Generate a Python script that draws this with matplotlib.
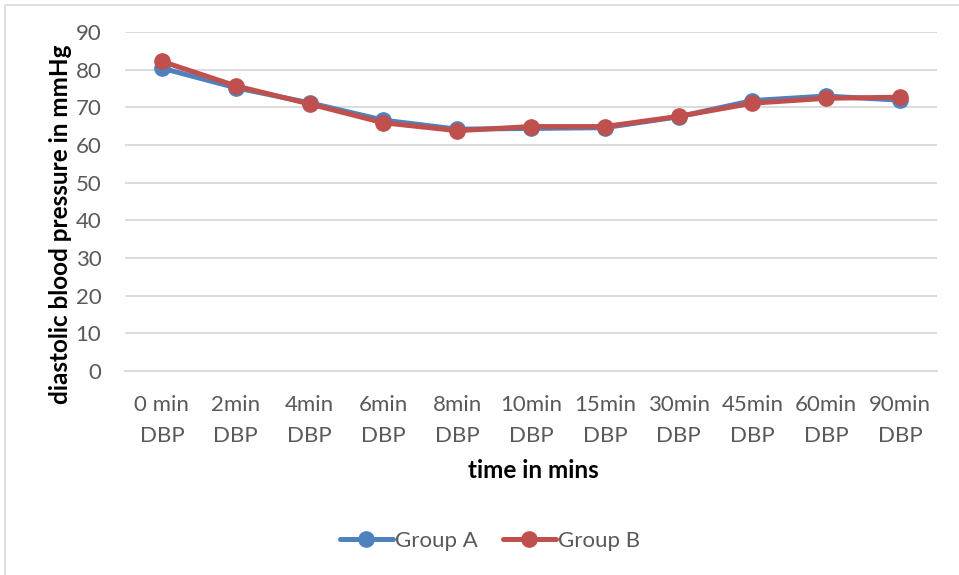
import matplotlib.pyplot as plt
from matplotlib.patches import Rectangle

# values
categories = ['0 min\nDBP', '2min\nDBP', '4min\nDBP', '6min\nDBP', '8min\nDBP',
              '10min\nDBP', '15min\nDBP', '30min\nDBP', '45min\nDBP', '60min\nDBP', '90min\nDBP']
group_a = [80.4, 75.2, 71.2, 66.6, 64.2, 64.4, 64.6, 67.5, 71.8, 73.0, 71.9]
group_b = [82.2, 75.7, 70.9, 65.9, 63.8, 64.9, 64.9, 67.6, 71.1, 72.4, 72.7]
y_ticks = [0, 10, 20, 30, 40, 50, 60, 70, 80, 90]

plt.rcParams['font.family'] = ['Lato', 'DejaVu Sans']

fig = plt.figure(figsize=(9.59, 5.75), dpi=100)
ax = fig.add_axes([125 / 959, 1 - 371 / 575, 812 / 959, 339 / 575])

# outer chart frame
fig.patches.append(Rectangle((5 / 959, -0.01), 1.0, 1 - 5 / 575 + 0.01, transform=fig.transFigure,
                             fill=False, edgecolor='#D9D9D9', linewidth=1.2))

x = range(len(categories))
ax.plot(x, group_a, color='#4F81BD', linewidth=3.6, marker='o', markersize=11,
        solid_capstyle='round', label='Group A', zorder=3)
ax.plot(x, group_b, color='#C0504D', linewidth=3.6, marker='o', markersize=11,
        solid_capstyle='round', label='Group B', zorder=4)

ax.set_xlim(-0.5, len(categories) - 0.5)
ax.set_ylim(0, 90)
ax.set_yticks(y_ticks)
ax.set_xticks(list(x))
ax.set_xticklabels(categories, linespacing=1.7)
ax.yaxis.grid(True, color='#D9D9D9', linewidth=1.3)
ax.set_axisbelow(True)
for s in ax.spines.values():
    s.set_visible(False)
ax.spines['bottom'].set_visible(True)
ax.spines['bottom'].set_color('#D9D9D9')
ax.spines['bottom'].set_linewidth(1.3)
ax.tick_params(axis='both', length=0, labelsize=16, labelcolor='#595959')
ax.tick_params(axis='x', pad=17)
ax.tick_params(axis='y', pad=17)

ax.set_xlabel('time in mins', fontsize=17.5, fontweight='bold')
ax.xaxis.set_label_coords(0.503, -(470 - 371) / 339)
ax.xaxis.label.set_va('center')
ax.set_ylabel('diastolic blood pressure in mmHg', fontsize=17.5, fontweight='bold')
ax.yaxis.set_label_coords(-53 / 812, 0.434)

fig.legend(loc='center', bbox_to_anchor=(490 / 959, 1 - 541 / 575), ncol=2, frameon=False,
           fontsize=16, handlelength=2.4, columnspacing=1.1, handletextpad=0.1,
           labelcolor='#595959')

fig.savefig('out.png', dpi=100)
